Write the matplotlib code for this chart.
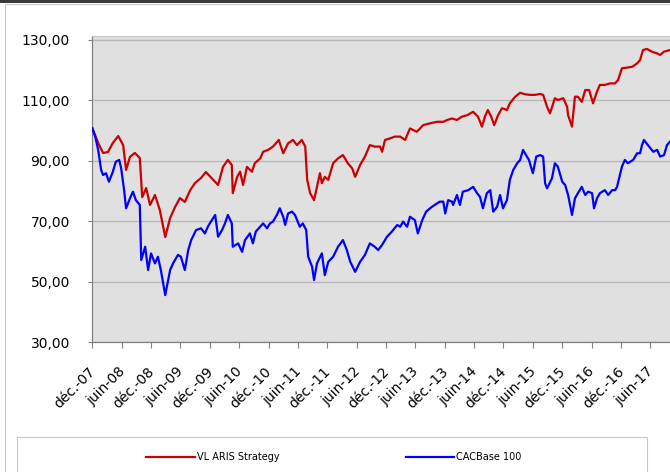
import matplotlib
matplotlib.use('Agg')
import matplotlib.pyplot as plt
from matplotlib.patches import Rectangle
from matplotlib.transforms import ScaledTranslation

# months since déc.-07
t_aris = [0, 1.2, 2.2, 3.2, 4.2, 5.3, 6.3, 6.9, 7.7, 8.7, 9.7, 10.2, 11.0, 11.8, 12.8,
          13.8, 14.4, 14.9, 15.9, 16.9, 17.9, 18.9, 20.0, 21.0, 22.2, 23.2, 24.7, 25.7,
          26.7, 27.7, 28.5, 28.7, 29.6, 30.2, 30.8, 31.6, 32.6, 33.2, 34.3, 34.9, 35.9,
          36.9, 38.1, 39.0, 40.0, 41.0, 41.8, 42.8, 43.5, 43.9, 44.5, 45.3, 45.9, 46.5,
          46.9, 47.5, 48.2, 49.2, 50.2, 51.2, 52.2, 53.1, 53.7, 54.7, 55.7, 56.7, 57.7,
          58.8, 59.2, 59.8, 60.8, 61.8, 62.9, 63.9, 64.9, 66.3, 67.6, 69.0, 70.4, 71.7,
          72.5, 73.5, 74.5, 75.5, 76.6, 77.8, 78.8, 79.6, 80.2, 80.8, 81.5, 82.1, 82.9,
          83.7, 84.7, 85.3, 86.4, 87.4, 88.4, 89.4, 90.4, 91.5, 92.1, 92.9, 93.5, 94.5,
          95.1, 96.2, 97.0, 97.2, 98.0, 98.6, 99.2, 100.0, 100.7, 101.5, 102.3, 103.1,
          103.7, 104.7, 105.8, 106.8, 107.4, 108.2, 109.2, 110.3, 111.3, 111.9, 112.5,
          113.3, 114.3, 115.4, 116.0, 116.8, 118.0]
v_aris = [100.7, 95.8, 92.5, 92.8, 95.8, 98.1, 95.1, 86.9, 91.2, 92.5, 90.8, 77.9, 80.9,
          75.3, 78.6, 73.6, 68.7, 64.7, 71.0, 74.6, 77.6, 76.3, 80.2, 82.6, 84.2, 86.2,
          83.6, 81.9, 87.9, 90.2, 88.5, 79.2, 84.6, 86.3, 81.9, 87.9, 86.3, 89.1, 90.7,
          92.9, 93.5, 94.6, 96.8, 92.4, 95.7, 96.8, 95.1, 96.8, 94.6, 83.6, 79.2, 76.9,
          81.3, 85.8, 82.5, 84.6, 83.6, 89.1, 90.7, 91.8, 89.1, 87.4, 84.6, 88.5, 91.3,
          95.1, 94.6, 94.6, 92.9, 96.8, 97.3, 97.9, 97.9, 96.8, 100.6, 99.5, 101.7, 102.3,
          102.8, 102.8, 103.4, 103.9, 103.4, 104.5, 105.0, 106.1, 104.5, 101.2, 104.5,
          106.7, 104.5, 101.7, 105.0, 107.3, 106.7, 108.9, 111.1, 112.4, 111.9, 111.7,
          111.7, 112.0, 111.7, 107.8, 105.6, 110.6, 110.0, 110.6, 107.8, 105.0, 101.2,
          111.1, 111.1, 109.4, 113.3, 113.3, 108.9, 112.8, 115.0, 115.0, 115.5, 115.5,
          116.6, 120.5, 120.7, 121.0, 122.1, 123.2, 126.5, 126.9, 126.0, 125.4, 124.9,
          126.0, 126.5]

t_cac = [0, 0.6, 1.2, 1.8, 2.2, 2.8, 3.4, 4.2, 4.8, 5.5, 5.9, 6.5, 6.9, 7.7, 8.3, 8.9,
         9.7, 10.0, 10.8, 11.4, 12.0, 12.8, 13.4, 14.0, 14.9, 15.9, 16.5, 17.5, 18.1,
         18.9, 19.6, 20.2, 21.2, 22.2, 23.0, 23.6, 24.0, 25.1, 25.7, 26.5, 27.1, 27.7,
         28.5, 28.7, 29.8, 30.6, 31.2, 32.2, 32.8, 33.4, 34.3, 34.9, 35.7, 36.3, 36.9,
         37.7, 38.3, 39.0, 39.4, 40.0, 40.8, 41.4, 42.4, 43.0, 43.7, 44.1, 44.9, 45.3,
         45.9, 46.9, 47.5, 48.2, 49.2, 50.2, 51.2, 52.0, 52.7, 53.7, 54.7, 55.7, 56.7,
         57.7, 58.4, 59.2, 60.2, 61.2, 62.3, 62.9, 63.5, 64.3, 64.9, 65.9, 66.5, 67.4,
         68.2, 69.0, 69.4, 70.4, 71.0, 71.7, 72.1, 72.7, 73.5, 73.7, 74.5, 75.1, 75.7,
         76.8, 77.8, 78.6, 79.2, 79.8, 80.6, 81.3, 81.9, 82.7, 83.3, 83.9, 84.7, 85.3,
         86.0, 86.8, 87.4, 88.0, 88.6, 89.2, 90.0, 90.7, 91.5, 92.1, 92.5, 92.9, 93.9,
         94.5, 95.1, 96.0, 96.6, 97.2, 98.0, 98.6, 99.2, 100.0, 100.7, 101.3, 102.1,
         102.5, 103.1, 103.7, 104.7, 105.4, 106.2, 106.8, 107.2, 108.2, 108.8, 109.4,
         110.5, 111.3, 111.9, 112.3, 112.7, 113.5, 114.6, 115.4, 116.0, 116.8, 117.4,
         118.0]
v_cac = [100.6, 97.9, 93.5, 86.9, 85.2, 85.8, 83.0, 86.3, 89.6, 90.2, 87.4, 80.2, 74.2,
         77.5, 79.7, 76.9, 75.3, 57.1, 61.5, 53.8, 59.3, 56.0, 58.2, 53.8, 45.5, 53.8,
         56.0, 58.8, 58.2, 53.8, 60.4, 63.7, 67.0, 67.6, 65.9, 68.1, 69.2, 72.0, 64.8,
         67.0, 69.2, 72.0, 69.2, 61.5, 62.6, 59.8, 63.7, 65.9, 62.6, 66.5, 68.1, 69.2,
         67.6, 69.2, 69.8, 72.0, 74.2, 71.4, 68.7, 72.5, 73.1, 72.0, 68.1, 69.2, 67.0,
         58.2, 54.9, 50.5, 56.0, 59.3, 52.1, 56.5, 58.2, 61.5, 63.7, 60.4, 56.5, 53.2,
         56.5, 58.8, 62.6, 61.5, 60.4, 62.1, 64.8, 66.5, 68.7, 68.1, 69.8, 68.1, 71.4,
         70.3, 65.9, 70.3, 73.1, 74.2, 74.7, 75.8, 76.4, 76.4, 72.5, 76.9, 76.4, 75.3,
         78.6, 75.3, 79.7, 80.2, 81.3, 79.2, 78.0, 74.2, 79.2, 80.2, 73.1, 74.7, 78.6,
         74.2, 76.9, 83.6, 86.9, 89.1, 90.2, 93.5, 91.8, 90.2, 85.8, 91.3, 91.8, 91.3,
         82.5, 80.8, 84.1, 89.1, 88.0, 83.0, 81.9, 78.6, 72.0, 77.5, 79.2, 81.3, 78.6,
         79.7, 79.2, 74.2, 77.5, 79.2, 80.2, 78.6, 80.2, 80.2, 81.3, 88.0, 90.2, 89.1,
         90.2, 92.4, 92.4, 95.1, 96.8, 95.1, 92.9, 93.5, 91.3, 91.8, 95.1, 96.2]

tick_labels = ['déc.-07', 'juin-08', 'déc.-08', 'juin-09', 'déc.-09', 'juin-10',
               'déc.-10', 'juin-11', 'déc.-11', 'juin-12', 'déc.-12', 'juin-13',
               'déc.-13', 'juin-14', 'déc.-14', 'juin-15', 'déc.-15', 'juin-16',
               'déc.-16', 'juin-17']
y_ticks = [30, 50, 70, 90, 110, 130]

W, H = 670, 472
fig = plt.figure(figsize=(W / 100, H / 100), dpi=100)

# chart frame
fig.add_artist(Rectangle((5 / W, -0.1), 1, (H - 4) / H + 0.1, transform=fig.transFigure,
                         facecolor='none', edgecolor='#c8c8c8', lw=0.8))
fig.add_artist(Rectangle((0, 1 - 2.5 / H), 1, 2.5 / H, transform=fig.transFigure,
                         facecolor='#3a3a3a', edgecolor='none'))

xmax = 122
ax = fig.add_axes([92.3 / W, (H - 342) / H, 4.895 * xmax / W, 306.1 / H])
ax.set_facecolor('#e0e0e0')
ax.set_xlim(0, xmax)
ax.set_ylim(30, 131.2)

l1, = ax.plot(t_aris, v_aris, color='#cc0000', lw=1.6, label='VL ARIS Strategy', zorder=3)
l2, = ax.plot(t_cac, v_cac, color='#0000ff', lw=1.6, label='CACBase 100', zorder=3)

ax.set_yticks(y_ticks)
ax.set_yticklabels([f'{v},00' for v in y_ticks], fontsize=10)
ax.yaxis.grid(True, color='#b8b8b8', lw=1.0)
ax.set_axisbelow(True)

ax.tick_params(axis='y', length=3, width=0.8, color='#808080', pad=13)
ax.tick_params(axis='x', length=4, width=0.8, color='#808080', pad=12)

ax.set_xticks(range(0, 6 * len(tick_labels), 6))
ax.set_xticklabels(tick_labels, rotation=45, ha='right', va='top', fontsize=10)
for lab in ax.get_xticklabels():
    lab.set_transform(lab.get_transform() + ScaledTranslation(0.06, 0, fig.dpi_scale_trans))

for s in ['left', 'bottom']:
    ax.spines[s].set_color('#808080')
    ax.spines[s].set_linewidth(0.9)
ax.spines['right'].set_visible(False)
ax.spines['top'].set_color('#c8c8c8')
ax.spines['top'].set_linewidth(0.8)

# legend box
fig.add_artist(Rectangle((17 / W, -0.1), 630 / W, (H - 437) / H + 0.1, transform=fig.transFigure,
                         facecolor='white', edgecolor='#c8c8c8', lw=0.8))
fig.legend(handles=[l1, l2], loc='center', bbox_to_anchor=(334 / W, (H - 457) / H),
           ncol=2, frameon=False, fontsize=7, handlelength=5, handletextpad=0.2,
           columnspacing=13)

fig.savefig('out.png', dpi=100)
